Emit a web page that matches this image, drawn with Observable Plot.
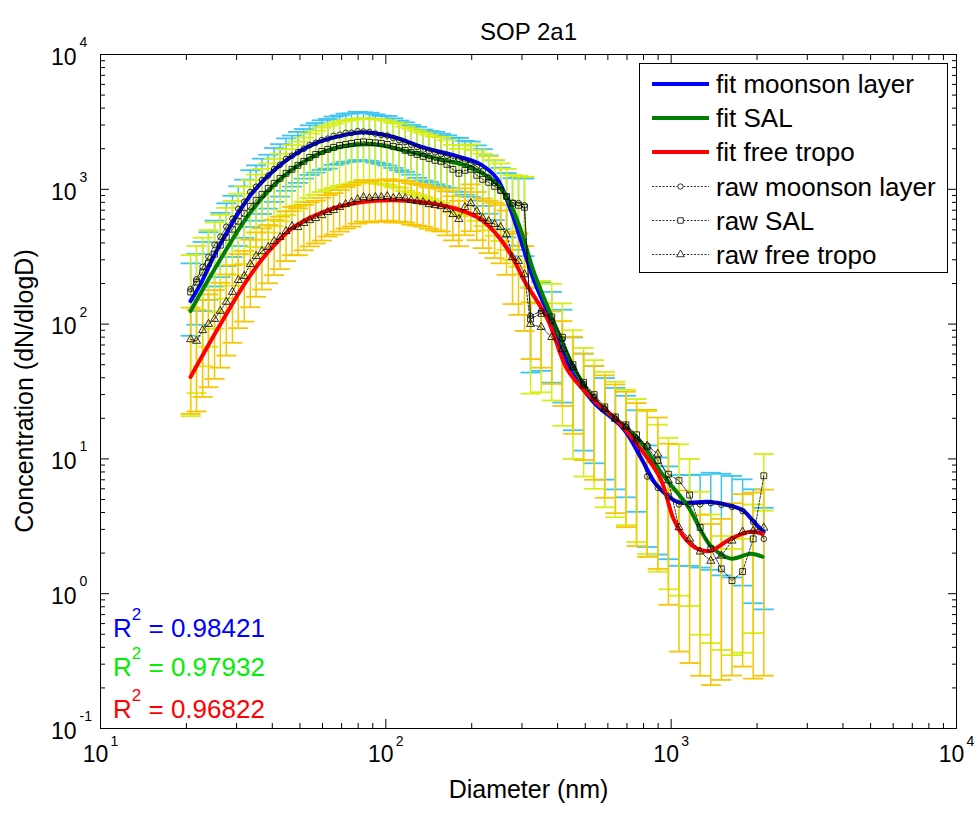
<!DOCTYPE html>
<html>
<head>
<meta charset="utf-8">
<script src="https://cdn.jsdelivr.net/npm/d3@7"></script>
<script src="https://cdn.jsdelivr.net/npm/@observablehq/plot@0.6"></script>
<style>
  body { margin: 0; background: #fff; }
  #chart svg { display: block; }
</style>
</head>
<body>
<div id="chart"></div>
<script>
// ---------------- DATA ----------------
const diameters = [20.7, 21.7, 22.8, 23.9, 25.1, 26.3, 27.6, 29.0, 30.4, 31.9, 33.5, 35.1, 36.8, 38.7, 40.6, 42.6, 44.7, 46.9, 49.2, 51.6, 54.1, 56.8, 59.6, 62.6, 65.6, 68.9, 72.3, 75.8, 79.6, 83.5, 87.6, 91.9, 96.4, 101.2, 106.2, 111.4, 116.9, 122.7, 128.7, 135.1, 141.7, 148.7, 156.1, 163.7, 171.8, 180.3, 189.2, 198.5, 208.3, 218.5, 229.3, 240.6, 252.5, 264.9, 278.0, 291.7, 306.1,
  321.5, 350.3, 381.5, 415.6, 452.7, 493.3, 537.2, 585.2, 637.6, 694.5, 756.3, 823.9, 897.4, 977.7, 1064.9, 1160.2, 1263.6, 1376.6, 1499.7, 1633.7, 1779.8, 1938.6, 2111.9];

const moonsonRaw = [182, 215, 266, 316, 388, 446, 528, 605, 716, 808, 955, 1045, 1172, 1262, 1415, 1522, 1680, 1775, 1890, 2000, 2130, 2215, 2320, 2375, 2490, 2540, 2620, 2630, 2700, 2680, 2660, 2590, 2530, 2500, 2400, 2310, 2240, 2140, 2060, 1970, 1920, 1880, 1820, 1770, 1690, 1680, 1600, 1570, 1470, 1370, 1220, 1115, 975, 880, 795, 790, 760,
  115, 125, 105, 77, 48, 36, 29, 23.4, 19.8, 17.3, 13.5, 7.4, 6.1, 5.3, 4.6, 4.6, 4.6, 4.7, 4.56, 4.4, 4.1, 3.4, 2.55];
const salRaw = [173, 205, 243, 283, 330, 385, 441, 506, 580, 664, 748, 829, 918, 1017, 1108, 1206, 1314, 1407, 1506, 1612, 1725, 1815, 1910, 1978, 2047, 2118, 2154, 2191, 2230, 2250, 2230, 2210, 2191, 2154, 2083, 2047, 1944, 1879, 1815, 1754, 1697, 1640, 1612, 1531, 1407, 1314, 1383, 1407, 1270, 1186, 1126, 1052, 984, 887, 788, 761, 736,
  109, 120, 113, 80, 50, 37, 30, 24.3, 20.5, 17.9, 15.1, 12.3, 9.7, 7.7, 6.9, 5.4, 3.1, 2.15, 1.53, 1.25, 1.46, 2.55, 7.5];
const freeRaw = [77, 75, 90, 100, 109, 125, 146, 173, 212, 227, 278, 319, 347, 372, 412, 441, 489, 532, 523, 560, 589, 610, 641, 676, 699, 736, 774, 801, 843, 873, 858, 873, 873, 887, 858, 873, 858, 829, 815, 801, 774, 761, 748, 711, 653, 600, 736, 788, 687, 610, 580, 551, 523, 464, 313, 293, 234,
  100, 95, 80, 65, 48, 35, 28, 23.4, 19.8, 17.3, 14.1, 12.5, 10.9, 6.9, 3.1, 2.55, 2.05, 1.75, 1.91, 2.47, 2.88, 2.93, 3.08];

// relative error bars (fraction of the value)
const moonsonErr = [0.55,0.54,0.53,0.52,0.51,0.50,0.49,0.48,0.47,0.46,0.45,0.44,0.44,0.43,0.43,0.42,0.42,0.41,0.41,0.40,0.40,0.40,0.40,0.40,0.39,0.39,0.39,0.39,0.39,0.39,0.39,0.39,0.39,0.40,0.40,0.40,0.40,0.40,0.41,0.41,0.41,0.42,0.42,0.42,0.43,0.43,0.43,0.44,0.44,0.45,0.46,0.47,0.48,0.50,0.52,0.55,0.58,
  0.62,0.64,0.65,0.66,0.66,0.68,0.68,0.70,0.70,0.70,0.70,0.70,0.68,0.66,0.65,0.65,0.66,0.68,0.70,0.70,0.72,0.75,0.70];
const salErr = [0.88,0.85,0.80,0.76,0.72,0.68,0.65,0.62,0.60,0.58,0.56,0.55,0.54,0.53,0.52,0.52,0.51,0.51,0.50,0.50,0.50,0.50,0.50,0.50,0.50,0.50,0.50,0.50,0.50,0.50,0.50,0.50,0.50,0.50,0.50,0.50,0.50,0.50,0.50,0.50,0.50,0.50,0.51,0.51,0.52,0.52,0.53,0.53,0.54,0.55,0.56,0.57,0.58,0.60,0.62,0.65,0.68,
  0.72,0.74,0.76,0.78,0.80,0.80,0.80,0.82,0.82,0.82,0.84,0.84,0.85,0.86,0.86,0.85,0.84,0.80,0.75,0.72,0.75,0.80,0.45];
const freeErr = [0.72,0.70,0.68,0.66,0.64,0.62,0.60,0.58,0.56,0.54,0.52,0.50,0.48,0.46,0.44,0.42,0.40,0.39,0.38,0.37,0.36,0.35,0.35,0.34,0.34,0.34,0.34,0.34,0.34,0.34,0.34,0.34,0.34,0.34,0.34,0.34,0.34,0.34,0.34,0.34,0.34,0.35,0.35,0.36,0.36,0.37,0.38,0.38,0.39,0.40,0.42,0.44,0.46,0.50,0.55,0.60,0.62,
  0.45,0.50,0.55,0.62,0.68,0.72,0.75,0.78,0.80,0.82,0.84,0.85,0.86,0.88,0.88,0.88,0.88,0.88,0.88,0.90,0.90,0.92,0.92];

// fitted curves
const fitMoonsonX = [20.68, 22.41, 25.71, 33.56, 43.80, 57.63, 71.07, 81.52, 103.87, 135.61, 178.36, 214.74, 246.3, 273.5, 296.5, 329.4, 377.7, 444.1, 534.6, 680.9, 780.8, 881.7, 971.3, 1053, 1169.5, 1341.5, 1615.4, 1794.3, 1944.9, 2107.8];
const fitMoonsonY = [148, 198, 360, 903, 1585, 2230, 2512, 2644, 2472, 2047, 1754, 1531, 1186, 711, 427, 215, 109, 45.6, 26.4, 16.7, 10.35, 6.53, 5.32, 4.80, 4.72, 4.80, 4.49, 4.12, 3.42, 2.88];
const fitSalX = [20.68, 25.71, 33.56, 43.80, 57.63, 71.07, 90.56, 119.16, 155.51, 198.15, 246.3, 273.5, 296.5, 329.4, 377.7, 444.1, 534.6, 680.9, 780.8, 940.5, 1141.5, 1374.4, 1615.4, 1898.4, 2090.8];
const fitSalY = [125, 278, 676, 1248, 1815, 2083, 2154, 1910, 1668, 1456, 1089, 774, 506, 247, 119, 53.2, 27.8, 17.6, 13.4, 7.48, 4.49, 2.27, 1.82, 1.98, 1.88];
const fitFreeX = [20.68, 26.34, 32.75, 39.44, 47.48, 62.48, 81.52, 103.87, 135.61, 178.36, 214.74, 252.3, 280.2, 303.8, 368.7, 433.5, 521.9, 638.4, 780.8, 918.0, 1019.5, 1123, 1237.4, 1374.4, 1615.4, 1898.4, 2090.8];
const fitFreeY = [40.5, 100, 215, 360, 523, 699, 801, 829, 801, 711, 600, 427, 303, 215, 109, 45.6, 28.8, 19.8, 11.9, 7.11, 3.59, 2.55, 2.15, 2.08, 2.55, 2.88, 2.78];

const r2Values = ["0.98421", "0.97932", "0.96822"];
const r2Colors = ["#0000ff", "#00ee00", "#ff0000"];

const legendLabels = ["fit moonson layer", "fit SAL", "fit free tropo", "raw moonson layer", "raw SAL", "raw free tropo"];

const xTickValues = [10, 100, 1000, 10000];
const xTickExponents = ["1", "2", "3", "4"];
const yTickValues = [0.1, 1, 10, 100, 1000, 10000];
const yTickExponents = ["-1", "0", "1", "2", "3", "4"];
const minorMultipliers = [2, 3, 4, 5, 6, 7, 8, 9];

// ---------------- BUILD ----------------
const FONT = "'Liberation Sans', Arial, Helvetica, sans-serif";
const series = [
  {raw: moonsonRaw, err: moonsonErr, errColor: "#3cc6ef", fitX: fitMoonsonX, fitY: fitMoonsonY, fitColor: "#0000ff", symbol: "circle", r: 2.8},
  {raw: salRaw, err: salErr, errColor: "#d6ee12", fitX: fitSalX, fitY: fitSalY, fitColor: "#008000", symbol: "square", r: 3.3},
  {raw: freeRaw, err: freeErr, errColor: "#f6c606", fitX: fitFreeX, fitY: fitFreeY, fitColor: "#ff0000", symbol: "triangle", r: 3.0}
];
series.forEach(s => {
  s.rows = diameters.map((d, i) => ({d, v: s.raw[i], lo: s.raw[i] * (1 - s.err[i]), hi: s.raw[i] * (1 + s.err[i])}));
  s.fit = s.fitX.map((x, i) => ({x, y: s.fitY[i]}));
});

const capSymbol = {draw(ctx, size) { const w = Math.sqrt(size / Math.PI); ctx.moveTo(-w, 0); ctx.lineTo(w, 0); }};

const xMinor = xTickValues.slice(0, -1).flatMap(d => minorMultipliers.map(m => d * m));
const yMinor = yTickValues.slice(0, -1).flatMap(d => minorMultipliers.map(m => d * m));

function tickAxis(kind, anchor, ticks, size) {
  const o = {anchor, tickSize: size, fill: "none", label: null, stroke: "black", strokeWidth: 1};
  if (anchor === "bottom") o.dy = -size;
  if (anchor === "top") o.dy = size;
  if (anchor === "left") o.dx = size;
  if (anchor === "right") o.dx = -size;
  return kind === "x" ? Plot.axisX(ticks, o) : Plot.axisY(ticks, o);
}

const marks = [];
// error bars
series.forEach(s => {
  marks.push(Plot.ruleX(s.rows, {x: "d", y1: "lo", y2: "hi", stroke: s.errColor, strokeWidth: 1.5}));
  marks.push(Plot.dot(s.rows, {x: "d", y: "lo", symbol: capSymbol, r: 10, stroke: s.errColor, fill: "none", strokeWidth: 1.8}));
  marks.push(Plot.dot(s.rows, {x: "d", y: "hi", symbol: capSymbol, r: 10, stroke: s.errColor, fill: "none", strokeWidth: 1.8}));
});
// fits
series.forEach(s => {
  marks.push(Plot.line(s.fit, {x: "x", y: "y", stroke: s.fitColor, strokeWidth: 4, curve: "catmull-rom"}));
});
// raw
series.forEach(s => {
  marks.push(Plot.line(s.rows, {x: "d", y: "v", stroke: "black", strokeWidth: 0.8, strokeDasharray: "2,1.5"}));
  marks.push(Plot.dot(s.rows, {x: "d", y: "v", symbol: s.symbol, r: s.r, stroke: "black", fill: "none", strokeWidth: 0.8}));
});
// frame and ticks
marks.push(Plot.frame({stroke: "black", strokeWidth: 1}));
for (const a of ["bottom", "top"]) {
  marks.push(tickAxis("x", a, xTickValues, 9));
  marks.push(tickAxis("x", a, xMinor, 5));
}
for (const a of ["left", "right"]) {
  marks.push(tickAxis("y", a, yTickValues, 9));
  marks.push(tickAxis("y", a, yMinor, 5));
}
// tick labels
marks.push(Plot.text(xTickValues, {x: d => d, text: () => "10", frameAnchor: "bottom", dy: 33, dx: -5, textAnchor: "middle", fontSize: 23}));
marks.push(Plot.text(xTickValues, {x: d => d, text: (d, i) => xTickExponents[i], frameAnchor: "bottom", dy: 17, dx: 10, textAnchor: "start", fontSize: 14}));
marks.push(Plot.text(yTickValues, {y: d => d, text: () => "10", frameAnchor: "left", dx: -24, dy: 3, textAnchor: "end", fontSize: 23}));
marks.push(Plot.text(yTickValues, {y: d => d, text: (d, i) => yTickExponents[i], frameAnchor: "left", dx: -21, dy: -12, textAnchor: "start", fontSize: 14}));
// titles
marks.push(Plot.text(["SOP 2a1"], {text: d => d, frameAnchor: "top", dy: -32, textAnchor: "middle", fontSize: 24}));
marks.push(Plot.text(["Diameter (nm)"], {text: d => d, frameAnchor: "bottom", dy: 69, textAnchor: "middle", fontSize: 25}));

const chart = Plot.plot({
  width: 980,
  height: 813,
  marginLeft: 100,
  marginRight: 24,
  marginTop: 54,
  marginBottom: 85,
  style: {fontFamily: FONT, background: "white", color: "black"},
  x: {type: "log", domain: [10, 10000], axis: null},
  y: {type: "log", domain: [0.1, 10000], axis: null},
  marks
});
document.getElementById("chart").appendChild(chart);

// ---------------- ANNOTATIONS (y title, R², legend) ----------------
const svg = d3.select(chart);
svg.append("text")
  .attr("transform", "translate(24,391) rotate(-90)")
  .attr("text-anchor", "middle").attr("dy", "0.35em")
  .attr("font-family", FONT).attr("font-size", 25).attr("fill", "black")
  .text("Concentration (dN/dlogD)");

const rBase = [637, 676, 718];
r2Values.forEach((v, i) => {
  const t = svg.append("text").attr("x", 113).attr("y", rBase[i]).attr("fill", r2Colors[i])
    .attr("text-anchor", "start").attr("font-family", FONT).attr("font-size", 26);
  t.append("tspan").text("R");
  t.append("tspan").attr("font-size", 17).attr("dy", -17).text("2");
  t.append("tspan").attr("dy", 17).text(" = " + v);
});

const lg = svg.append("g").attr("font-family", FONT).attr("text-anchor", "start");
lg.append("rect").attr("x", 639.5).attr("y", 63.5).attr("width", 308).attr("height", 209)
  .attr("fill", "white").attr("stroke", "black").attr("stroke-width", 1);
const rowY = [84, 118, 152, 186.5, 220.5, 254.5];
const symbols = [d3.symbolCircle, d3.symbolSquare, d3.symbolTriangle];
const symSize = [22, 30, 26];
legendLabels.forEach((label, i) => {
  const y = rowY[i];
  if (i < 3) {
    lg.append("line").attr("x1", 652).attr("x2", 709).attr("y1", y).attr("y2", y)
      .attr("stroke", series[i].fitColor).attr("stroke-width", 4);
  } else {
    lg.append("line").attr("x1", 652).attr("x2", 709).attr("y1", y).attr("y2", y)
      .attr("stroke", "black").attr("stroke-width", 0.8).attr("stroke-dasharray", "2,1.5");
    lg.append("path").attr("d", d3.symbol(symbols[i - 3], symSize[i - 3])())
      .attr("transform", `translate(680.5,${y})`).attr("fill", "white").attr("stroke", "black").attr("stroke-width", 0.8);
  }
  lg.append("text").attr("x", 716).attr("y", y).attr("dy", "0.35em").attr("text-anchor", "start")
    .attr("font-size", 26).attr("fill", "black").text(label);
});
</script>
</body>
</html>
